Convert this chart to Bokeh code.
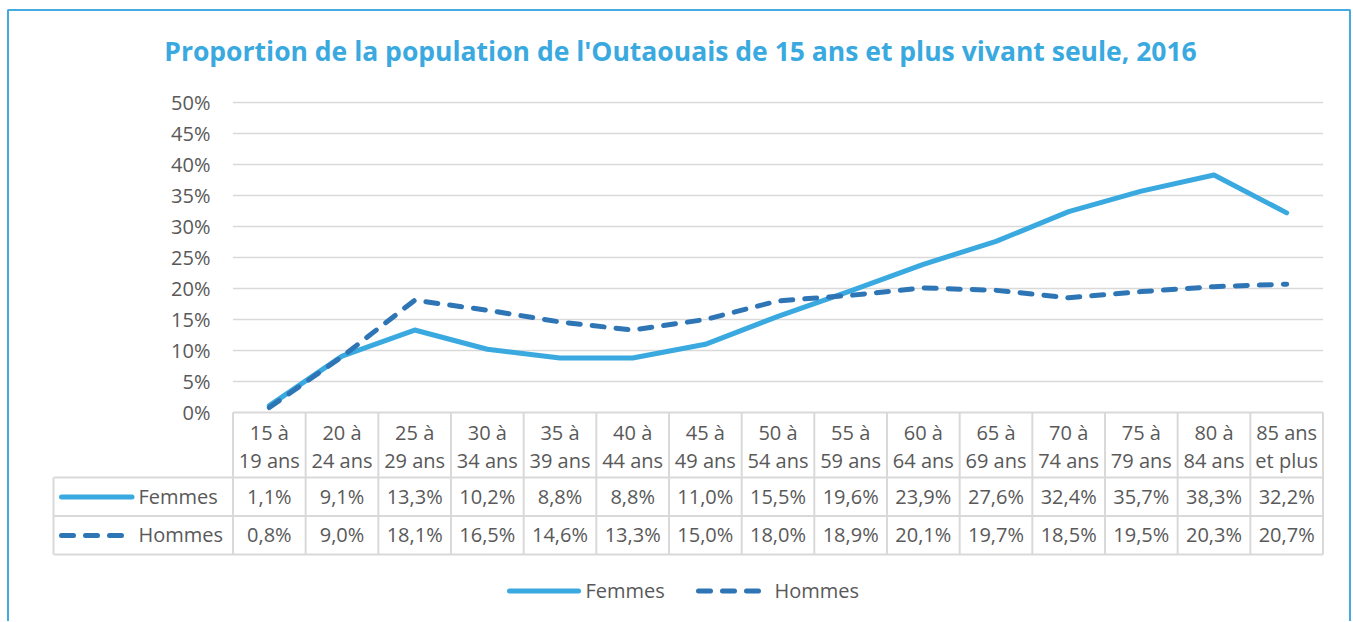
from bokeh.plotting import figure
from bokeh.models import Range1d
from bokeh.core.properties import value
from bokeh.embed import file_html
from bokeh.resources import INLINE

# ---------------- data ----------------
title = "Proportion de la population de l'Outaouais de 15 ans et plus vivant seule, 2016"
cat_line1 = ["15 à", "20 à", "25 à", "30 à", "35 à", "40 à", "45 à", "50 à",
             "55 à", "60 à", "65 à", "70 à", "75 à", "80 à", "85 ans"]
cat_line2 = ["19 ans", "24 ans", "29 ans", "34 ans", "39 ans", "44 ans", "49 ans", "54 ans",
             "59 ans", "64 ans", "69 ans", "74 ans", "79 ans", "84 ans", "et plus"]
femmes = [1.1, 9.1, 13.3, 10.2, 8.8, 8.8, 11.0, 15.5, 19.6, 23.9, 27.6, 32.4, 35.7, 38.3, 32.2]
hommes = [0.8, 9.0, 18.1, 16.5, 14.6, 13.3, 15.0, 18.0, 18.9, 20.1, 19.7, 18.5, 19.5, 20.3, 20.7]
series_names = ["Femmes", "Hommes"]
y_ticks = [0, 5, 10, 15, 20, 25, 30, 35, 40, 45, 50]

# ---------------- layout helpers ----------------
W, H = 1352, 621
ORIGIN = 0  # page position of the canvas top-left corner
LEFT_IMG, RIGHT_IMG = 232.5, 1322.5
N = len(femmes)
UNIT = (RIGHT_IMG - LEFT_IMG) / N
ZERO_IMG, PX_PER_PCT = 412.0, 6.2


def X(img_x):
    return -0.5 + (img_x - LEFT_IMG) / UNIT


def Y(img_y):
    return (ZERO_IMG - img_y) / PX_PER_PCT


FONT = value("Open Sans")
FS = "20px"
TXT = "#595959"
GRID = "#D9D9D9"
C_F = "#3AA9E0"
C_H = "#2E75B6"
DASH = "12 12"
LW = 5

p = figure(width=W, height=H,
           x_range=Range1d(X(ORIGIN), X(ORIGIN + W)), y_range=Range1d(Y(ORIGIN + H), Y(ORIGIN)),
           min_border=0, toolbar_location=None, output_backend="svg",
           x_axis_location=None, y_axis_location=None, outline_line_color=None,
           background_fill_color="white", border_fill_color="white")
p.xgrid.visible = False
p.ygrid.visible = False

# outer border (left, top, right)
p.line(x=[X(7.5), X(7.5), X(1349.5), X(1349.5)], y=[Y(800), Y(9.5), Y(9.5), Y(800)],
       line_color="#45AAE0", line_width=2)

# title
p.text(x=[X(680)], y=[Y(50)], text=[title], text_font=FONT, text_font_style="bold",
       text_font_size="26.5px", text_color=C_F, text_align="center", text_baseline="middle")

# grid lines
gy = y_ticks[1:]
p.segment(x0=[-0.5] * len(gy), x1=[N - 0.5] * len(gy), y0=gy, y1=gy,
          line_color=GRID, line_width=1.5)

# y tick labels
p.text(x=[X(210)] * len(y_ticks), y=y_ticks, text=[f"{t}%" for t in y_ticks],
       text_font=FONT, text_font_size=FS, text_color=TXT,
       text_align="right", text_baseline="middle")

# data table lines
rows_img = [477, 515.5, 554]
p.segment(x0=[-0.5], x1=[N - 0.5], y0=[0], y1=[0], line_color=GRID, line_width=2)
for r in rows_img:
    p.segment(x0=[X(53)], x1=[N - 0.5], y0=[Y(r)], y1=[Y(r)], line_color=GRID, line_width=2)
vx = [i - 0.5 for i in range(N + 1)]
p.segment(x0=vx, x1=vx, y0=[0] * len(vx), y1=[Y(554)] * len(vx), line_color=GRID, line_width=2)
p.segment(x0=[X(53)], x1=[X(53)], y0=[Y(477)], y1=[Y(554)], line_color=GRID, line_width=2)

xs = list(range(N))
p.text(x=xs, y=[Y(432)] * N, text=cat_line1, text_font=FONT, text_font_size=FS,
       text_color=TXT, text_align="center", text_baseline="middle")
p.text(x=xs, y=[Y(460)] * N, text=cat_line2, text_font=FONT, text_font_size=FS,
       text_color=TXT, text_align="center", text_baseline="middle")


def fmt(v):
    return f"{v:.1f}".replace(".", ",") + "%"


p.text(x=xs, y=[Y(495.5)] * N, text=[fmt(v) for v in femmes], text_font=FONT, text_font_size=FS,
       text_color=TXT, text_align="center", text_baseline="middle")
p.text(x=xs, y=[Y(534)] * N, text=[fmt(v) for v in hommes], text_font=FONT, text_font_size=FS,
       text_color=TXT, text_align="center", text_baseline="middle")

# legend keys in table
p.line(x=[X(61), X(131.5)], y=[Y(496.5)] * 2, line_color=C_F, line_width=LW, line_cap="round")
p.line(x=[X(61), X(126)], y=[Y(535)] * 2, line_color=C_H, line_width=LW, line_cap="round",
       line_dash=DASH)
p.text(x=[X(138)] * 2, y=[Y(495.5), Y(534)], text=series_names, text_font=FONT, text_font_size=FS,
       text_color=TXT, text_align="left", text_baseline="middle")

# series lines
p.line(x=xs, y=femmes, line_color=C_F, line_width=LW, line_cap="round", line_join="round")
p.line(x=xs, y=hommes, line_color=C_H, line_width=LW, line_cap="round", line_join="round",
       line_dash=DASH)

# bottom legend
p.line(x=[X(509), X(578)], y=[Y(590.5)] * 2, line_color=C_F, line_width=LW, line_cap="round")
p.line(x=[X(698), X(762)], y=[Y(590.5)] * 2, line_color=C_H, line_width=LW, line_cap="round",
       line_dash=DASH)
p.text(x=[X(585), X(774)], y=[Y(589.5)] * 2, text=series_names, text_font=FONT, text_font_size=FS,
       text_color=TXT, text_align="left", text_baseline="middle")

open("out.html", "w").write(file_html(p, INLINE))
